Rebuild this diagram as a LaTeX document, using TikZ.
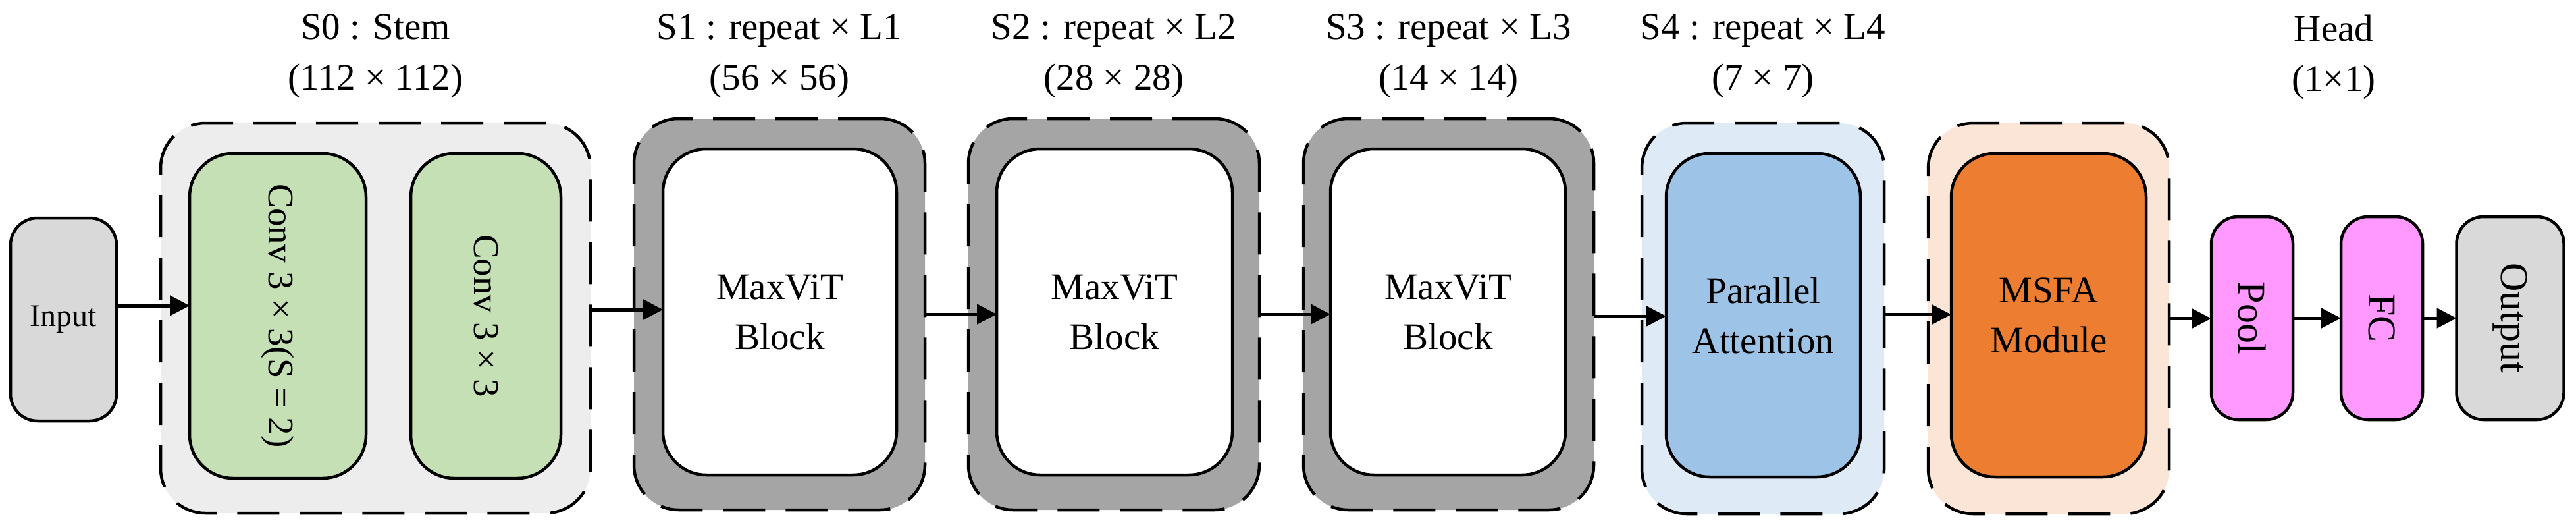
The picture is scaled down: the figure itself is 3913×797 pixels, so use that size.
\documentclass[tikz,border=0pt]{standalone}
\usepackage{fontspec}
\setmainfont{Liberation Serif}
\usetikzlibrary{arrows.meta}
\definecolor{inputgray}{HTML}{D9D9D9}
\definecolor{stemfill}{HTML}{EDEDED}
\definecolor{convgreen}{HTML}{C5E0B4}
\definecolor{stagegray}{HTML}{A5A5A5}
\definecolor{sfourout}{HTML}{DEEBF7}
\definecolor{sfourin}{HTML}{9DC3E6}
\definecolor{msfaout}{HTML}{FBE5D6}
\definecolor{msfain}{HTML}{ED7D31}
\definecolor{headpink}{HTML}{FF99FF}
\begin{document}
\begin{tikzpicture}[x=1pt,y=-1pt,
  solidbox/.style={draw=black,line width=4.5pt,inner sep=0pt,outer sep=0pt,rounded corners=66pt},
  smallbox/.style={draw=black,line width=4.5pt,inner sep=0pt,outer sep=0pt,rounded corners=41pt},
  stagebox/.style={draw=black,line width=4.5pt,dash pattern=on 64pt off 31pt,inner sep=0pt,outer sep=0pt,rounded corners=68pt},
  lbl/.style={anchor=base,inner sep=0pt,font=\fontsize{57}{75}\selectfont},
  blk/.style={align=center,font=\fontsize{57}{76}\selectfont},
  vtext/.style={rotate=-90,inner sep=0pt},
  arr/.style={line width=5pt,-{Triangle[length=30pt,width=30pt]}},
]
\useasboundingbox (0,0) rectangle (3913,797);

% outer stage boxes
\node[stagebox,fill=stemfill,minimum width=653pt,minimum height=592pt] (s0) at (570.5,483) {};
\node[stagebox,fill=stagegray,minimum width=442pt,minimum height=594pt] (s1) at (1184,477) {};
\node[stagebox,fill=stagegray,minimum width=442pt,minimum height=594pt] (s2) at (1692,477) {};
\node[stagebox,fill=stagegray,minimum width=441pt,minimum height=594pt] (s3) at (2200.5,477) {};
\node[stagebox,fill=sfourout,minimum width=368pt,minimum height=593pt] (s4) at (2678,483.5) {};
\node[stagebox,fill=msfaout,minimum width=366pt,minimum height=593pt] (ms) at (3112,483.5) {};

% input / output / head boxes
\node[smallbox,fill=inputgray,minimum width=161pt,minimum height=308pt,font=\fontsize{48}{58}\selectfont] (input) at (96.5,485) {Input};
\node[smallbox,fill=headpink,minimum width=124pt,minimum height=308pt] (pool) at (3421,483) {};
\node[smallbox,fill=headpink,minimum width=124pt,minimum height=308pt] (fc) at (3618,483) {};
\node[smallbox,fill=inputgray,minimum width=163pt,minimum height=308pt] (out) at (3813,483) {};

% inner boxes
\node[solidbox,fill=convgreen,minimum width=268pt,minimum height=493pt] (c1) at (422,479.5) {};
\node[solidbox,fill=convgreen,minimum width=228pt,minimum height=493pt] (c2) at (738,479.5) {};
\node[solidbox,fill=white,blk,minimum width=355pt,minimum height=495pt] (s1in) at (1184.5,473.5) {MaxViT\\Block};
\node[solidbox,fill=white,blk,minimum width=358pt,minimum height=495pt] (s2in) at (1693,473.5) {MaxViT\\Block};
\node[solidbox,fill=white,blk,minimum width=357pt,minimum height=495pt] (s3in) at (2199.5,473.5) {MaxViT\\Block};
\node[solidbox,fill=sfourin,blk,minimum width=295pt,minimum height=491pt] (s4in) at (2678.5,478.5) {Parallel\\Attention};
\node[solidbox,fill=msfain,blk,minimum width=296pt,minimum height=491pt] (msin) at (3112,478.5) {MSFA\\Module};

% rotated texts
\node[vtext,font=\fontsize{55}{66}\selectfont] (c1t) at (c1.center) {Conv 3 × 3(S = 2)};
\node[vtext,font=\fontsize{55}{66}\selectfont] (c2t) at (c2.center) {Conv 3 × 3};
\node[vtext,font=\fontsize{60}{72}\selectfont] (poolt) at (pool.center) {Pool};
\node[vtext,font=\fontsize{60}{72}\selectfont] (fct) at (fc.center) {FC};
\node[vtext,font=\fontsize{60}{72}\selectfont] (outt) at (out.center) {Output};

% stage labels
\node[lbl] (l0a) at (570.5,60) {S0 : Stem};
\node[lbl] (l0b) at (570.5,137) {(112 × 112)};
\node[lbl] (l1a) at (1184,60) {S1 : repeat × L1};
\node[lbl] (l1b) at (1184,137) {(56 × 56)};
\node[lbl] (l2a) at (1692,60) {S2 : repeat × L2};
\node[lbl] (l2b) at (1692,137) {(28 × 28)};
\node[lbl] (l3a) at (2200.5,60) {S3 : repeat × L3};
\node[lbl] (l3b) at (2200.5,137) {(14 × 14)};
\node[lbl] (l4a) at (2678,60) {S4 : repeat × L4};
\node[lbl] (l4b) at (2678,137) {(7 × 7)};
\node[lbl] (lha) at (3545,63) {Head};
\node[lbl] (lhb) at (3545,139) {(1×1)};

% connectors
\coordinate (a1) at ([yshift=21pt]input.east);
\draw[arr] (a1) -- (a1 -| c1.west);
\coordinate (a2) at ([yshift=13pt]s0.east);
\draw[arr] (a2) -- (a2 -| s1in.west);
\draw[arr] (s1.east) -- (s1.east -| s2in.west);
\draw[arr] (s2.east) -- (s2.east -| s3in.west);
\coordinate (a5) at ([yshift=-3pt]s3.east);
\draw[arr] (a5) -- (a5 -| s4in.west);
\coordinate (a6) at ([yshift=6pt]s4.east);
\draw[arr] (a6) -- (a6 -| msin.west);
\draw[arr] (ms.east) -- (ms.east -| pool.west);
\draw[arr] (pool.east) -- (fc.west);
\draw[arr] (fc.east) -- (out.west);
\end{tikzpicture}
\end{document}
